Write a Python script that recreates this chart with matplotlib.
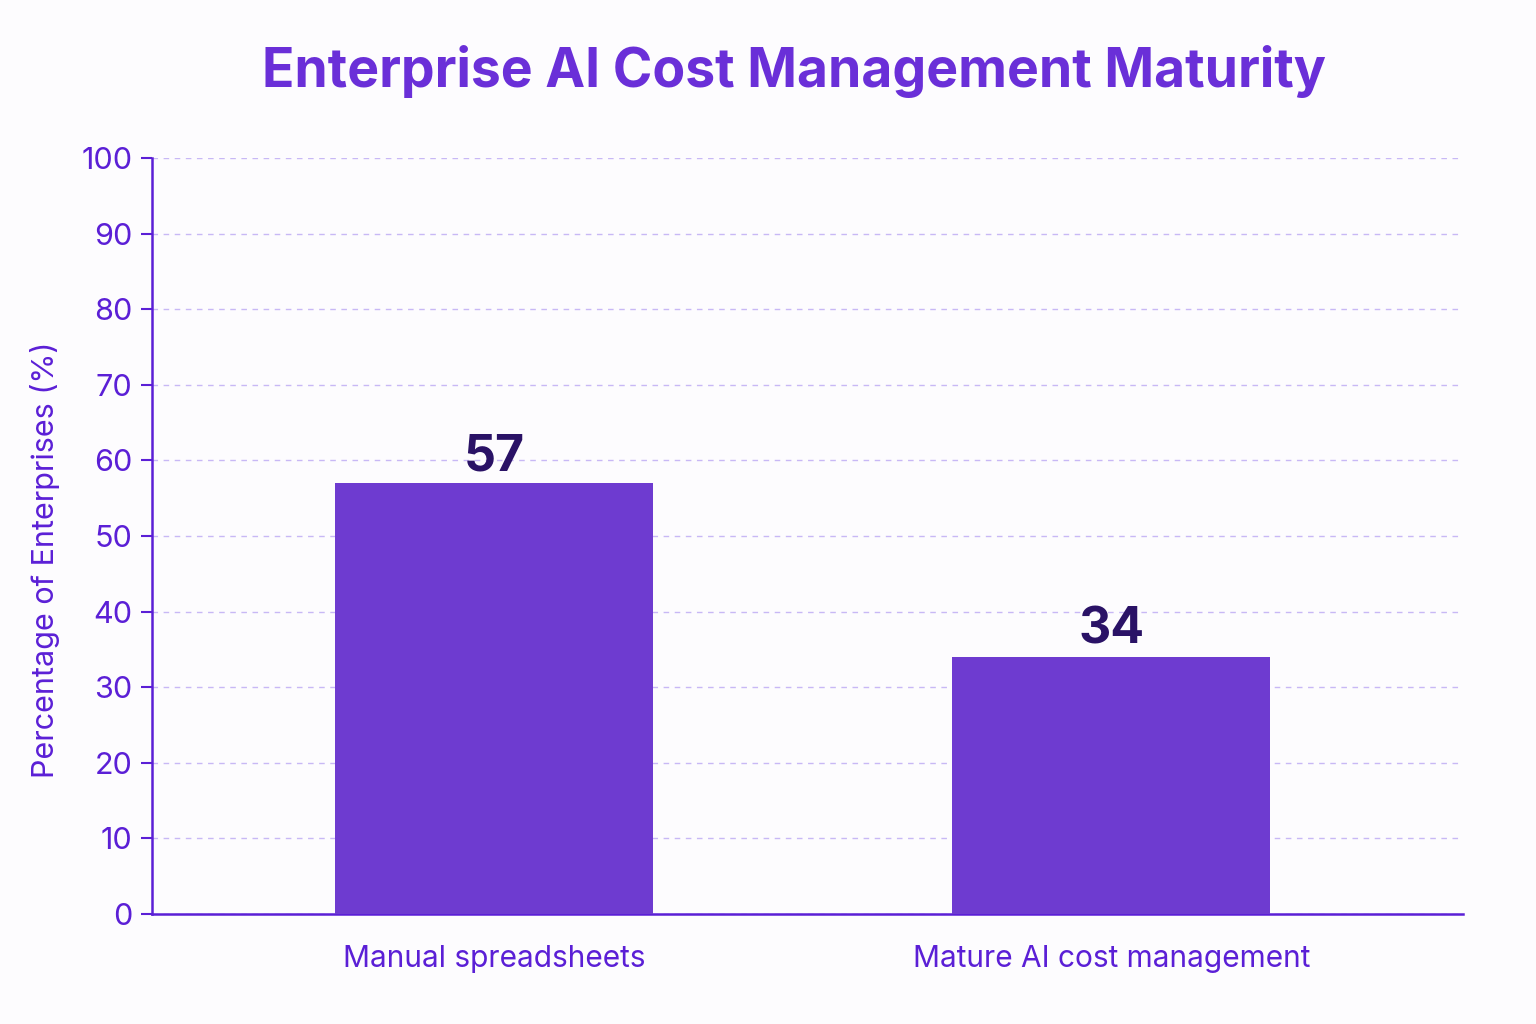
import matplotlib
matplotlib.use("Agg")
import matplotlib.pyplot as plt

# data
categories = ["Manual spreadsheets", "Mature AI cost management"]
values = [57, 34]
yticks = [0, 10, 20, 30, 40, 50, 60, 70, 80, 90, 100]

plt.rcParams['font.family'] = ['Inter', 'DejaVu Sans']

purple = "#5B1FD6"
bar_col = "#6E3BD0"
label_col = "#2A1266"
grid_col = "#C8B8F5"

fig = plt.figure(figsize=(15.36, 10.24), dpi=100)
fig.patch.set_facecolor("#FDFCFE")
ax = fig.add_axes([0.099, 0.1074, 0.8535, 0.7383])
ax.set_facecolor("#FDFCFE")

x = list(range(len(categories)))
bars = ax.bar(x, values, width=0.515, color=bar_col, zorder=3)

for xi, v in zip(x, values):
    ax.text(xi, v + 0.4, str(v), ha="center", va="bottom",
            fontsize=36, fontweight="bold", color=label_col, zorder=4)

ax.set_xlim(-0.554, 1.57)
ax.set_ylim(0, 100)
ax.set_yticks(yticks)
ax.set_xticks(x)
ax.set_xticklabels(categories)
ax.tick_params(axis="y", colors=purple, labelsize=22, length=8, width=1.5, pad=6)
ax.tick_params(axis="x", colors=purple, labelsize=21.5, length=0, pad=22)
ax.yaxis.grid(True, linestyle=(0, (4, 4)), color=grid_col, linewidth=1.0, zorder=0)

for s in ["top", "right"]:
    ax.spines[s].set_visible(False)
for s in ["left", "bottom"]:
    ax.spines[s].set_color(purple)
    ax.spines[s].set_linewidth(1.8)

ax.set_ylabel("Percentage of Enterprises (%)", fontsize=22, color=purple)
ax.yaxis.set_label_coords(-0.07, 0.468)

fig.text(0.517, 0.93, "Enterprise AI Cost Management Maturity", ha="center", va="center",
         fontsize=38.5, fontweight="bold", color="#6A2FD8")

fig.savefig("out.png", dpi=100, facecolor=fig.get_facecolor())
